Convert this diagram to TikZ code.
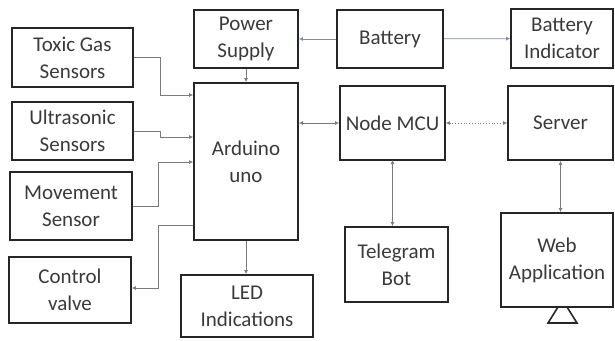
\documentclass[tikz,border=0pt]{standalone}
\usepackage{fontspec}
\setmainfont{Carlito}
\usepackage{xcolor}
\usetikzlibrary{arrows.meta,calc,positioning}
\definecolor{ink}{HTML}{3A3A3A}
\definecolor{frame}{HTML}{262626}
\definecolor{wire}{HTML}{7A7A7A}
\definecolor{wireTwo}{HTML}{7F8C9C}

\begin{document}
\begin{tikzpicture}[x=1pt,y=-1pt,
    blk/.style={draw=frame,line width=1.8pt,align=center,text=ink,inner sep=0pt,
      font=\fontsize{21}{27}\selectfont},
    conn/.style={draw=wire,line width=0.8pt,-{Latex[length=4pt,width=4pt]}},
    both/.style={conn,{Latex[length=4pt,width=4pt]}-{Latex[length=4pt,width=4pt]}}]
        \useasboundingbox (0,0) rectangle (615,340);
        % sensors and actuators
        \node[blk,minimum width=121pt,minimum height=59pt] (toxic) at (72.5,57.5) {Toxic Gas\\Sensors};
        \node[blk,minimum width=121pt,minimum height=58pt] (ultra) at (72.5,131) {Ultrasonic\\Sensors};
        \node[blk,minimum width=122pt,minimum height=68pt] (move) at (71,206) {Movement\\Sensor};
        \node[blk,minimum width=122pt,minimum height=66pt] (valve) at (70,290) {Control\\valve};
        % controller
        \node[blk,minimum width=104pt,minimum height=58pt] (power) at (246,39) {Power\\Supply};
        \node[blk,minimum width=104pt,minimum height=157pt] (uno) at (246,161.5) {Arduino\\uno};
        \node[blk,minimum width=132pt,minimum height=62pt] (led) at (247,306) {LED\\Indications};
        \node[blk,minimum width=106pt,minimum height=58pt] (batt) at (390,39) {Battery};
        \node[blk,minimum width=102pt,minimum height=59pt] (battind) at (562,38.5) {Battery\\Indicator};
        % network side
        \node[blk,minimum width=105pt,minimum height=74pt] (mcu) at (392.5,123) {Node MCU};
        \node[blk,minimum width=105pt,minimum height=74pt] (server) at (560.5,123) {Server};
        \node[blk,minimum width=103pt,minimum height=75pt] (tgbot) at (396.5,264.5) {Telegram\\Bot};
        \node[blk,minimum width=112pt,minimum height=94pt] (webapp) at (557,260) {Web\\Application};
        \draw[frame,line width=1.6pt] (558,307) -- (548,323) -- (577,323) -- (567,307);
        % connectors
        \draw[conn] (toxic.east) -| (160,95) -- (uno.west |- 0,95);
        \draw[conn] (ultra.east) -| (160,137) -- (uno.west |- 0,137);
        \draw[conn] (move.east) -| (158,162) -- (uno.west |- 0,162);
        \draw[conn] (uno.west |- 0,225) -| (158,288) -- (valve.east |- 0,288);
        \draw[conn] (power) -- (uno);
        \draw[conn] (uno) -- (led.north -| uno.south);
        \draw[conn,draw=wireTwo] (batt) -- (power);
        \draw[conn,draw=wireTwo] (batt) -- (battind);
        \draw[both] (uno.east |- mcu) -- (mcu);
        \draw[both,dotted] (mcu) -- (server);
        \draw[both] (mcu.south |- 0,160) -- (tgbot.north -| mcu.south);
        \draw[both] (server) -- (webapp.north -| server.south);
      \end{tikzpicture}
\end{document}
